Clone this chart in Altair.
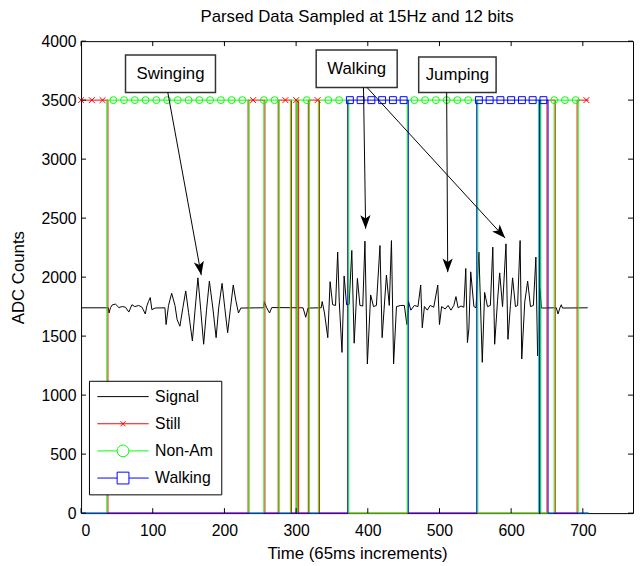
import math
import altair as alt
import pandas as pd

W, H = 559, 478
X_MAX, Y_MAX = 770, 4000
FONT = "Liberation Sans"

# ---------------- data ----------------
sig_x = [0, 38, 39, 41, 43.6, 48, 52.8, 57.4, 62, 66.6, 71, 75, 80.4, 85, 89.6, 92, 94, 96.5, 98.8, 103.4, 117,
         118.6, 122, 126.4, 131, 134, 137.9, 142, 146, 150, 155.3, 159, 163, 167, 171, 175, 179, 184, 188.4,
         192, 196.7, 200.5, 204.5, 208.5, 212.3, 216, 219.6, 222.9,
         250, 254.6, 255.5, 259, 262.9, 266, 309.7, 313.4, 316.6, 335,
         336.4, 339.6, 344.2, 347.4, 351, 355, 358, 360.2, 364, 367, 370.4, 374, 377.7, 381, 385.5, 389, 393,
         396, 399.4, 404, 408, 412, 417, 420, 426, 430, 433, 436, 440, 446, 451, 454.5, 456.8, 460, 465, 470,
         473.8, 476, 479, 483, 487, 492, 497.6, 500, 503, 508, 512, 516, 520, 523, 526, 530, 534, 536.7, 539,
         541, 543.6, 548, 551,
         555, 559.7, 563, 567, 571, 574.4, 577, 581, 584, 588, 592.8, 595.5, 599, 602, 606, 609, 612.5, 614.8,
         619, 623, 627, 631, 634.5, 636.9, 640, 642.4, 663, 665.4, 668, 670, 671.5, 706.8]
sig_y = [1740, 1740, 1696, 1740, 1765, 1771, 1742, 1751, 1745, 1704, 1766, 1750, 1760, 1745, 1688, 1760, 1793, 1827, 1724, 1738, 1740,
         1598, 1760, 1863, 1760, 1640, 1584, 1740, 1883, 1700, 1459, 1720, 1994, 1720, 1431, 1720, 1966, 1730, 1487,
         1740, 1947, 1740, 1529, 1740, 1933, 1800, 1696, 1738,
         1740, 1740, 1793, 1740, 1696, 1742, 1740, 1660, 1738, 1740,
         1793, 1696, 1487, 1961, 1766, 1760, 2212, 1793, 1362, 2010, 1766, 1770, 2226, 1440, 1989, 1760, 1755,
         2305, 1264, 1849, 1750, 1760, 2268, 1487, 2017, 1760, 2310, 1264, 1750, 1760, 1760, 1598, 1793, 1720, 1760, 1750,
         1933, 1571, 1751, 1720, 1760, 1745, 1933, 1598, 1750, 1730, 1760, 1720, 1760, 1835, 1740, 1755, 1745, 2073, 1445,
         1560, 2045, 1751, 1740,
         2212, 1278, 1870, 1750, 1760, 2254, 1431, 1800, 2036, 1750, 2282, 1473, 1760, 1994, 1750, 1760, 2310, 1306,
         1790, 1966, 1750, 1760, 2170, 1333, 1905, 1738, 1740, 1688, 1740, 1766, 1738, 1740]

seg_start = [0, 36, 233, 255, 275, 292, 300, 302, 317, 331, 372, 455, 552, 638, 640, 650, 660, 692]
seg_state = ["Still", "Non-Am", "Still", "Non-Am", "Still", "Non-Am", "Still", "Non-Am", "Still", "Non-Am",
             "Walking", "Non-Am", "Walking", "Non-Am", "Walking", "Still", "Non-Am", "Still"]
seg_end = 708
HIGH = 3500
MARK_STEP = 15
FALL_LAG = 1.5   # the leaving state drops one sample after the entering one rises

series_names = ["Signal", "Still", "Non-Am", "Walking"]
series_colors = ["black", "#ff0000", "#00ff00", "#0000ff"]

x_ticks = [0, 100, 200, 300, 400, 500, 600, 700]
y_ticks = [0, 500, 1000, 1500, 2000, 2500, 3000, 3500, 4000]

ann_text = ["Swinging", "Walking", "Jumping"]
ann_x0 = [62, 328, 471]
ann_x1 = [187.5, 441, 579]
ann_y0 = [3565, 3607, 3565]
ann_y1 = [3883, 3925, 3866]

arr_x0 = [121, 394, 399, 510]
arr_y0 = [3565, 3607, 3607, 3565]
arr_x1 = [167.7, 397, 591.6, 511.5]
arr_y1 = [2017, 2410, 2331, 2042]

# ---------------- tables ----------------
sig_df = pd.DataFrame({"t": sig_x, "v": sig_y, "series": "Signal", "o": range(len(sig_x))})

seg_bounds = seg_start + [seg_end]


def step_df(name):
    levels = [HIGH if st == name else 0 for st in seg_state]
    rows = [(seg_bounds[0], levels[0])]
    for i in range(1, len(levels)):
        b = seg_bounds[i]
        if levels[i] != levels[i - 1]:
            bx = b + FALL_LAG if levels[i - 1] > levels[i] else b
            rows.append((bx, levels[i - 1]))
            rows.append((bx, levels[i]))
    rows.append((seg_end, levels[-1]))
    return pd.DataFrame({"t": [r[0] for r in rows], "v": [r[1] for r in rows],
                         "series": name, "o": range(len(rows))})


def state_at(t):
    for i in range(len(seg_state)):
        if seg_bounds[i] <= t < seg_bounds[i + 1]:
            return seg_state[i]
    return None


def marker_df(name):
    ts = [t for t in range(0, seg_end, MARK_STEP) if state_at(t) == name]
    return pd.DataFrame({"t": ts, "v": [HIGH] * len(ts)})


axis_common = dict(ticks=False, domain=False, grid=False, labelFont=FONT, labelFontSize=16,
                   labelColor="black", titleFont=FONT, titleFontSize=17, titleFontWeight="normal",
                   titleColor="black", format="d")
xs = alt.Scale(domain=[0, X_MAX], nice=False, zero=False)
ys = alt.Scale(domain=[0, Y_MAX], nice=False, zero=False)
xaxis = alt.Axis(values=x_ticks, labelPadding=10, title="Time (65ms increments)", titlePadding=7, **axis_common)
yaxis = alt.Axis(values=y_ticks, labelPadding=5, title="ADC Counts", titlePadding=14, **axis_common)


def X(f):
    return alt.X(f, type="quantitative", scale=xs, axis=xaxis)


def Y(f):
    return alt.Y(f, type="quantitative", scale=ys, axis=yaxis)


leg_paths = [
    "M-1,0H1",
    "M-1,0H1M-0.1,-0.1L0.1,0.1M-0.1,0.1L0.1,-0.1",
    "M-1,0H-0.23A0.23,0.23 0 1,1 0.23,0A0.23,0.23 0 1,1 -0.23,0M0.23,0H1",
    "M-1,0H-0.23M0.23,0H1M-0.23,-0.23H0.23V0.23H-0.23Z",
]

legend = alt.Legend(
    title=None, orient="none", legendX=8, legendY=344,
    labelFont=FONT, labelFontSize=16, labelColor="black", labelOffset=6,
    symbolSize=2704, symbolStrokeWidth=1, clipHeight=16, rowPadding=11.5,
    padding=8, strokeColor="black", fillColor="white", symbolFillColor="transparent",
    symbolOpacity=1,
)
cscale = alt.Scale(domain=series_names, range=series_colors)
sscale = alt.Scale(domain=series_names, range=leg_paths)
color = alt.Color("series:N", scale=cscale, legend=legend)

layers = []
layers.append(alt.Chart(sig_df).mark_line(strokeWidth=1, clip=True).encode(
    x=X("t"), y=Y("v"), color=color, order="o:Q"))
for name in ["Still", "Non-Am", "Walking"]:
    layers.append(alt.Chart(step_df(name)).mark_line(strokeWidth=1).encode(
        x=X("t"), y=Y("v"), color=color, order="o:Q"))

x_marker = "M-1,-1L1,1M-1,1L1,-1"
layers.append(alt.Chart(marker_df("Still")).mark_point(
    shape=x_marker, filled=False, color="#ff0000", size=36, strokeWidth=1, opacity=1).encode(x=X("t"), y=Y("v")))
layers.append(alt.Chart(marker_df("Non-Am")).mark_point(
    shape="circle", filled=False, color="#00ff00", size=49, strokeWidth=1, opacity=1).encode(x=X("t"), y=Y("v")))
layers.append(alt.Chart(marker_df("Walking")).mark_point(
    shape="square", filled=False, color="#0000ff", size=49, strokeWidth=1, opacity=1).encode(x=X("t"), y=Y("v")))

# legend carrier (invisible marks, legend only)
leg_df = pd.DataFrame({"series": series_names})
layers.append(alt.Chart(leg_df).mark_point(filled=False, strokeWidth=1).encode(
    color=color,
    shape=alt.Shape("series:N", scale=sscale, legend=legend),
    opacity=alt.value(0)))

# inward ticks
xt = pd.DataFrame({"t": x_ticks})
yt = pd.DataFrame({"v": y_ticks})
layers.append(alt.Chart(xt).mark_rule(color="black", strokeWidth=1).encode(
    x=X("t"), y=alt.value(H), y2=alt.value(H - 5)))
layers.append(alt.Chart(xt).mark_rule(color="black", strokeWidth=1).encode(
    x=X("t"), y=alt.value(0), y2=alt.value(5)))
layers.append(alt.Chart(yt).mark_rule(color="black", strokeWidth=1).encode(
    y=Y("v"), x=alt.value(0), x2=alt.value(5)))
layers.append(alt.Chart(yt).mark_rule(color="black", strokeWidth=1).encode(
    y=Y("v"), x=alt.value(W), x2=alt.value(W - 5)))

# annotations
ann_df = pd.DataFrame({"x0": ann_x0, "x1": ann_x1, "y0": ann_y0, "y1": ann_y1, "label": ann_text})
ann_df["xc"] = (ann_df.x0 + ann_df.x1) / 2
ann_df["yc"] = (ann_df.y0 + ann_df.y1) / 2
layers.append(alt.Chart(ann_df).mark_rect(fill="white", stroke="#333333", strokeWidth=1.5).encode(
    x=X("x0"), x2="x1", y=Y("y0"), y2="y1"))
layers.append(alt.Chart(ann_df).mark_text(font=FONT, fontSize=17, color="black").encode(
    x=X("xc"), y=Y("yc"), text="label:N"))

arr_df = pd.DataFrame({"x0": arr_x0, "y0": arr_y0, "x1": arr_x1, "y1": arr_y1})
arr_df["ang"] = [
    math.degrees(math.atan2((b - a) * W / X_MAX, (d - c) * H / Y_MAX)) % 360
    for a, b, c, d in zip(arr_x0, arr_x1, arr_y0, arr_y1)
]
layers.append(alt.Chart(arr_df).mark_rule(color="black", strokeWidth=1).encode(
    x=X("x0"), y=Y("y0"), x2="x1", y2="y1"))
head = "M0,0L0.6,1.6L0,1.2L-0.6,1.6Z"
layers.append(alt.Chart(arr_df).mark_point(shape=head, filled=True, color="black", size=300, opacity=1).encode(
    x=X("x1"), y=Y("y1"), angle=alt.Angle("ang:Q", scale=None)))

chart = alt.layer(*layers).properties(
    width=W, height=H,
    title=alt.Title("Parsed Data Sampled at 15Hz and 12 bits", font=FONT, fontSize=17, fontWeight="normal",
                    color="black", frame="group", anchor="middle", offset=7),
    padding={"left": 74, "top": 30, "right": 1, "bottom": 50},
    autosize=alt.AutoSizeParams(type="none"),
    background="white",
).configure_view(stroke="black", strokeWidth=1)

chart.save("out.html", embed_options={"renderer": "svg", "actions": False})
